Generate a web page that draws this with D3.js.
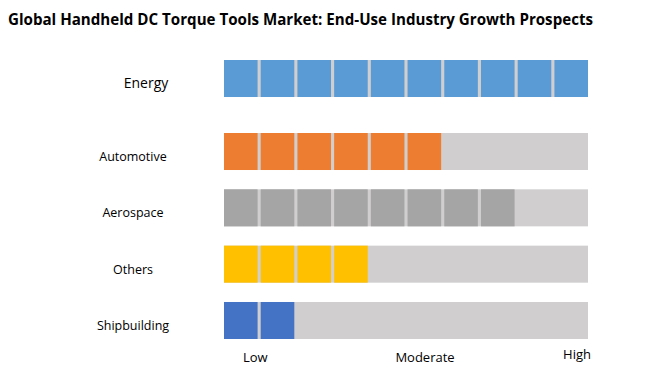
<!DOCTYPE html>
<html>
<head>
<meta charset="utf-8">
<script src="https://cdn.jsdelivr.net/npm/d3@7"></script>
<style>
  body { margin: 0; background: #fff; }
  text { font-family: "Open Sans", sans-serif; fill: #000; }
</style>
</head>
<body>
<div id="container"></div>
<script>
/* CONSTANTS AND GLOBALS */
const width = 650;
const height = 375;

/* DATA */
const topCategory = "Energy";
const categories = ["Automotive", "Aerospace", "Others", "Shipbuilding"];
const allCategories = [topCategory, ...categories];
const levels = [10, 6, 8, 4, 2];   // filled segments out of 10
const colors = ["#5b9bd5", "#ed7d31", "#a5a5a5", "#ffc000", "#4472c4"];
const maxLevel = 10;
const scaleLabels = ["Low", "Moderate", "High"];
const title = "Global Handheld DC Torque Tools Market: End-Use Industry Growth Prospects";

const data = allCategories.map((c, i) => ({ name: c, level: levels[i], color: colors[i] }));

const svg = d3.select("#container").append("svg")
  .attr("width", width)
  .attr("height", height);

svg.append("text")
  .attr("x", 8)
  .attr("y", 25)
  .attr("font-size", 15.5)
  .attr("font-weight", "bold")
  .attr("textLength", 585)
  .attr("lengthAdjust", "spacingAndGlyphs")
  .text(title);

/* SCALES */
const xScale = d3.scaleBand()
  .domain(d3.range(maxLevel))
  .range([224, 588])
  .paddingInner(0.085)
  .paddingOuter(0);

const yLower = d3.scaleBand()
  .domain(categories)
  .range([133, 339])
  .paddingInner(0.343)
  .paddingOuter(0);

const yPos = name => name === topCategory ? yLower(categories[0]) - 73 : yLower(name);
const barH = yLower.bandwidth();

const labelScale = d3.scaleOrdinal()
  .domain(scaleLabels)
  .range([243, 425, 591]);
const labelAnchor = d3.scaleOrdinal()
  .domain(scaleLabels)
  .range(["start", "middle", "end"]);

/* BARS */
const rows = svg.selectAll("g.row")
  .data(data)
  .join("g")
  .attr("class", "row")
  .attr("transform", d => `translate(0,${yPos(d.name)})`);

rows.append("rect")
  .attr("x", xScale.range()[0])
  .attr("y", 0)
  .attr("width", xScale.range()[1] - xScale.range()[0])
  .attr("height", barH)
  .attr("fill", "#d0cece");

rows.selectAll("rect.seg")
  .data(d => d3.range(d.level).map(k => ({ k, color: d.color })))
  .join("rect")
  .attr("class", "seg")
  .attr("x", d => xScale(d.k))
  .attr("y", 0)
  .attr("width", xScale.bandwidth())
  .attr("height", barH)
  .attr("fill", d => d.color);

rows.append("text")
  .attr("x", d => d.name === topCategory ? 146 : 133)
  .attr("y", barH / 2 + 5)
  .attr("dy", "0.35em")
  .attr("text-anchor", "middle")
  .attr("font-size", d => d.name === topCategory ? 14 : 12.5)
  .text(d => d.name);

/* SCALE LABELS */
svg.selectAll("text.lvl")
  .data(scaleLabels)
  .join("text")
  .attr("class", "lvl")
  .attr("x", d => labelScale(d))
  .attr("y", d => d === "High" ? 359 : 362)
  .attr("text-anchor", d => labelAnchor(d))
  .attr("font-size", 13)
  .text(d => d);
</script>
</body>
</html>
